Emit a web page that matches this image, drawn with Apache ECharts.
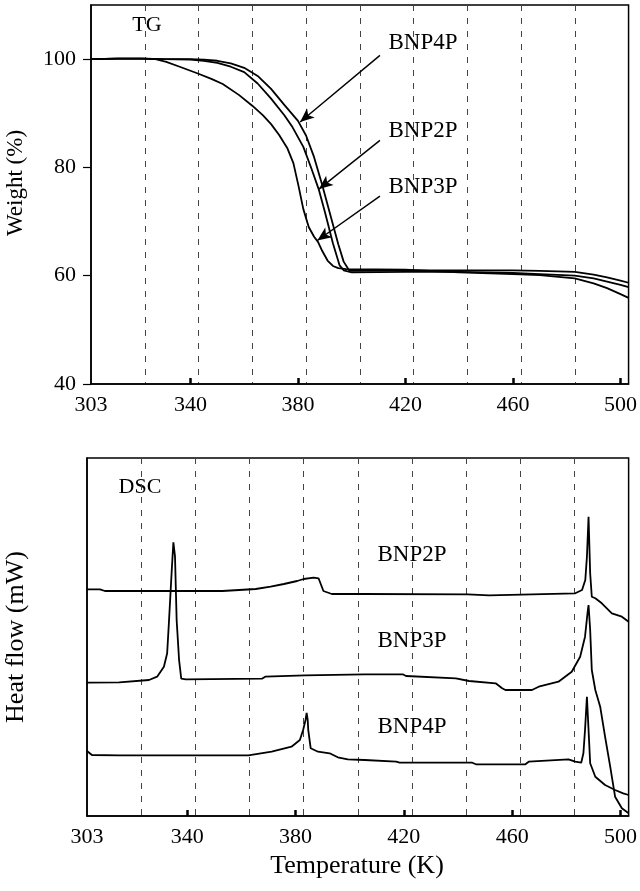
<!DOCTYPE html>
<html>
<head>
<meta charset="utf-8">
<script src="https://cdn.jsdelivr.net/npm/echarts@6/dist/echarts.min.js"></script>
<style>
html,body{margin:0;padding:0;background:#fff;}
#chart{width:640px;height:891px;}
</style>
</head>
<body>
<div id="chart"></div>
<script>
// ---- axis ticks ----
const xTickLabels = [303, 340, 380, 420, 460, 500];
const xTickMarks = [340, 380, 420, 460, 500];
const tgYTicks = [40, 60, 80, 100];

// ---- TG curves: [temperature K, weight %] ----
const tgBNP4P = [[303,100.0],[313,100.1],[322,100.1],[330,100.0],[340,100.0],[345,99.9],[350,99.7],[355,99.2],[360,98.4],[365,96.9],[370,94.5],[375,91.5],[380,88.6],[383,85.9],[386,81.9],[389,76.8],[392,71.3],[395,65.8],[397,62.6],[399,61.0],[400,60.9],[420,61.0],[440,61.0],[460,61.0],[470,60.9],[483,60.7],[490,60.2],[495,59.7],[500,59.1],[503,58.7]];
const tgBNP2P = [[303,100.0],[313,100.1],[322,100.1],[330,100.0],[340,99.9],[345,99.7],[350,99.3],[355,98.6],[360,97.6],[365,95.5],[370,92.7],[375,89.6],[378,87.4],[382,83.8],[385,79.8],[387.7,76.0],[390,71.8],[393,66.0],[395.5,61.9],[397,61.0],[400,60.6],[420,60.7],[440,60.7],[460,60.5],[470,60.3],[483,60.0],[490,59.5],[495,58.9],[500,58.3],[503,57.9]];
const tgBNP3P = [[303,100.0],[313,100.1],[322,100.1],[327,100.0],[331,99.5],[336,98.6],[343,97.3],[348,96.3],[352,95.4],[358,93.4],[363,91.4],[367,89.6],[370,88.0],[373,86.0],[376,83.6],[378.3,80.8],[380.2,76.6],[382,72.3],[384,69.0],[386,67.2],[387.5,66.2],[389,64.6],[391,62.8],[393,61.8],[395,61.4],[398,61.2],[420,61.1],[440,60.6],[460,60.3],[470,60.1],[483,59.5],[490,58.6],[495,57.7],[500,56.6],[503,55.9]];

// ---- TG arrows: [from, to] in data coords ----
const tgArrowBNP4P = [[410.5,100.7],[380.8,88.4]];
const tgArrowBNP2P = [[410.5,85.0],[387.8,76.0]];
const tgArrowBNP3P = [[410.5,74.7],[387.2,66.5]];

// ---- DSC curves: [temperature K, heat flow (arbitrary units)] ----
const dscBNP2P = [[303,226.7],[307.8,226.7],[309.6,225],[353,225],[353.6,226.7],[365.3,227],[365.9,228],[370.8,229.3],[375.7,232],[380.6,235],[383,237],[386.7,238.3],[388.5,237.7],[389.7,229.3],[390.3,225],[393.4,222],[405,222],[443.6,221.7],[444.2,220.7],[451.5,220.7],[452.1,222],[483.3,222.7],[485.8,226],[487,236],[487.6,259.3],[488.2,299.3],[488.8,242.7],[489.4,219.3],[490.7,217.7],[493.1,212.7],[496.8,202.7],[500.5,199.3],[503,194.3]];
const dscBNP3P = [[303,133.3],[314.9,133.7],[325.9,136],[328.9,139.3],[331.4,149.3],[332.6,162.7],[333.3,196],[334.3,246],[334.9,273.7],[335.5,259.3],[336.1,196],[337,156],[337.8,137.3],[339.5,136.7],[367.6,137.3],[368.8,139.3],[383.5,140.7],[405.5,141.7],[419.6,141.7],[420.8,140],[439.2,137.7],[444.1,135],[453.9,132.7],[456.3,127.7],[457.5,126],[467.3,126],[469.8,129.3],[477.1,134.3],[482,144.3],[485.1,159.3],[486.9,179.3],[487.9,205],[488.2,211],[488.8,186],[489.4,146],[490.7,126],[492.5,109.3],[494.3,79.3],[496.2,49.3],[498,19.3],[500.5,7.7],[503,2.7]];
const dscBNP4P = [[303,65],[304.8,61],[314.9,60.7],[362.6,60.7],[363.3,62.7],[371.2,64.3],[378.5,69.3],[381.6,76],[382.8,86],[383.7,96],[384.1,103],[384.5,96],[384.7,86],[385.6,67.7],[388.3,64.3],[392.6,62.7],[395.6,58.7],[399.3,56.7],[405.5,56],[417.2,54.3],[418.4,53.3],[445.3,53.3],[446.6,51.7],[464.9,51.7],[466.1,54.3],[480.8,56.7],[483.3,54.3],[485.5,53.3],[486.3,62.7],[486.9,86],[487.6,119.3],[488.2,86],[488.8,52.7],[490.7,39.3],[494.3,31],[498,26],[501,22.7],[503,21]];

const FONT = '"Liberation Serif", "DejaVu Serif", serif';
const chart = echarts.init(document.getElementById('chart'), null, {renderer:'canvas'});

function mainX(gi){
  return {
    gridIndex: gi, type:'value', min:303, max:503,
    axisLine:{show:true, lineStyle:{color:'#000', width:1.5}},
    axisTick:{show:true, inside:true, length:6, customValues:xTickMarks, lineStyle:{color:'#000', width:2.5}},
    axisLabel:{customValues:xTickLabels, color:'#000', fontSize:22, fontFamily:FONT, margin:10},
    splitLine:{show:false}
  };
}
function gridX(gi){
  return {
    gridIndex: gi, type:'value', min:0, max:200, interval:20, position:'top',
    axisLine:{show:false}, axisTick:{show:false}, axisLabel:{show:false},
    splitLine:{show:true, showMinLine:false, showMaxLine:false, lineStyle:{color:'#444', width:1, type:[6,7]}}
  };
}
function lineSeries(data, xi, yi, arrow){
  const s = {
    type:'line', data:data, xAxisIndex:xi, yAxisIndex:yi,
    symbol:'none', showSymbol:false, silent:true,
    lineStyle:{color:'#000', width:1.8}, z:3
  };
  if (arrow){
    s.markLine = {
      silent:true, symbol:['none','arrow'], symbolSize:[9,14],
      label:{show:false},
      lineStyle:{color:'#000', width:1.4, type:'solid'},
      data:[[{coord:arrow[0]},{coord:arrow[1]}]]
    };
  }
  return s;
}
function txt(x, y, t, size, rot){
  return {type:'text', x:x, y:y, rotation:rot||0, silent:true,
    style:{text:t, fill:'#000', fontSize:size, fontFamily:FONT, align:'center', verticalAlign:'middle'}};
}

const option = {
  animation:false,
  backgroundColor:'#fff',
  grid:[
    {left:91, top:5, width:542, height:379, show:true, borderColor:'#000', borderWidth:1.5, containLabel:false},
    {left:87, top:458, width:545, height:358, show:true, borderColor:'#000', borderWidth:1.5, containLabel:false}
  ],
  xAxis:[mainX(0), gridX(0), mainX(1), gridX(1)],
  yAxis:[
    {gridIndex:0, type:'value', min:40, max:110,
      axisLine:{show:true, lineStyle:{color:'#000', width:1.5}},
      axisTick:{show:true, length:8, customValues:tgYTicks, lineStyle:{color:'#000', width:1.2}},
      axisLabel:{customValues:tgYTicks, color:'#000', fontSize:22, fontFamily:FONT, margin:15},
      splitLine:{show:false}},
    {gridIndex:1, type:'value', min:0, max:358,
      axisLine:{show:true, lineStyle:{color:'#000', width:1.5}},
      axisTick:{show:false}, axisLabel:{show:false}, splitLine:{show:false}}
  ],
  series:[
    lineSeries(tgBNP4P, 0, 0, tgArrowBNP4P),
    lineSeries(tgBNP2P, 0, 0, tgArrowBNP2P),
    lineSeries(tgBNP3P, 0, 0, tgArrowBNP3P),
    lineSeries(dscBNP2P, 2, 1),
    lineSeries(dscBNP3P, 2, 1),
    lineSeries(dscBNP4P, 2, 1)
  ],
  graphic:[
    txt(147, 25, 'TG', 22),
    txt(423, 43, 'BNP4P', 23),
    txt(423, 131, 'BNP2P', 23),
    txt(423, 187, 'BNP3P', 23),
    txt(140, 487, 'DSC', 22),
    txt(412, 555, 'BNP2P', 23),
    txt(412, 641, 'BNP3P', 23),
    txt(412, 727, 'BNP4P', 23),
    txt(16, 183, 'Weight (%)', 23, Math.PI/2),
    txt(16, 637, 'Heat flow (mW)', 26, Math.PI/2),
    txt(357, 866, 'Temperature (K)', 26)
  ]
};
chart.setOption(option);
</script>
</body>
</html>
